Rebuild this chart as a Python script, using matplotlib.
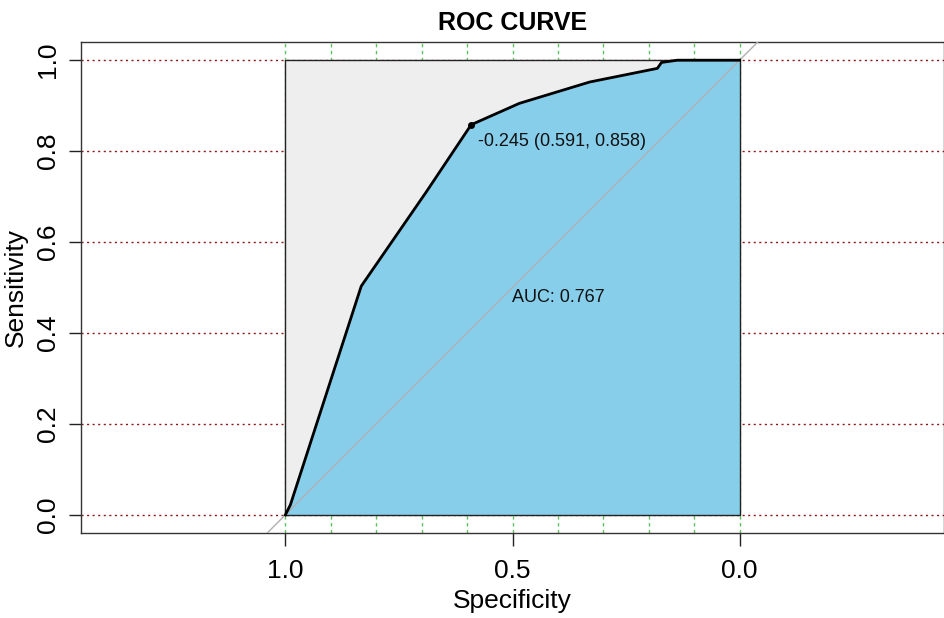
import numpy as np
import matplotlib
matplotlib.use("Agg")
import matplotlib.pyplot as plt

# ROC curve points (specificity, sensitivity)
specificity = [1.0, 0.989, 0.833, 0.69, 0.591, 0.485, 0.33, 0.181, 0.172, 0.137, 0.0]
sensitivity = [0.0, 0.022, 0.503, 0.71, 0.858, 0.905, 0.952, 0.982, 0.995, 1.0, 1.0]

best_spec = 0.591
best_sens = 0.858
best_label = "-0.245 (0.591, 0.858)"
auc_label = "AUC: 0.767"

x_ticks = [1.0, 0.5, 0.0]
y_ticks = [0.0, 0.2, 0.4, 0.6, 0.8, 1.0]
v_grid = np.round(np.arange(0, 1.01, 0.1), 1)
h_grid = y_ticks

plt.rcParams['font.family'] = ['Liberation Sans', 'DejaVu Sans']

fig = plt.figure(figsize=(9.45, 6.18), dpi=100)
ax = fig.add_axes([81 / 945, 1 - 533 / 618, (944 - 81) / 945, (533 - 42) / 618])
ax.set_xlim(1.45, -0.45)
ax.set_ylim(-0.04, 1.04)

# grid
for v in v_grid:
    ax.axvline(v, color="#5cc45c", ls=(0, (2.5, 2.5)), lw=1, zorder=1)
for h in h_grid:
    ax.axhline(h, color="#8b1a1a", ls=(0, (1.5, 2.5)), lw=1, zorder=1)

# max auc polygon
ax.fill([1, 1, 0, 0], [0, 1, 1, 0], color="#eeeeee", zorder=2)
ax.plot([1, 1, 0, 0, 1], [0, 1, 1, 0, 0], color="#222222", lw=1, zorder=4)

# auc polygon
ax.fill(specificity + [0.0], sensitivity + [0.0], color="#87ceeb", zorder=3)

# diagonal
ax.axline((1, 0), (0, 1), color="#b0b0b0", lw=1, zorder=4)

ax.plot(specificity, sensitivity, color="black", lw=2, zorder=5)
ax.plot([best_spec], [best_sens], "o", color="black", ms=4, zorder=6)
ax.text(best_spec - 0.015, best_sens - 0.018, best_label, fontsize=13,
        ha="left", va="top", color="#111111", zorder=6)
ax.text(0.4, 0.479, auc_label, fontsize=13, ha="center", va="center",
        color="#111111", zorder=6)

ax.set_xticks(x_ticks)
ax.set_xticklabels(["1.0", "0.5", "0.0"])
ax.set_yticks(y_ticks)
ax.set_yticklabels([f"{t:.1f}" for t in y_ticks], rotation=90, va="center")
ax.tick_params(axis="both", labelsize=19, length=9, width=1, color="#222222")
ax.tick_params(axis="x", pad=10)
ax.tick_params(axis="y", pad=6)
for s in ax.spines.values():
    s.set_color("#333333")
    s.set_linewidth(1)

ax.set_xlabel("Specificity", fontsize=19, labelpad=4)
ax.set_ylabel("Sensitivity", fontsize=19, labelpad=6)
ax.set_title("ROC CURVE", fontsize=18, fontweight="bold", pad=9)

fig.savefig("out.png", dpi=100)
